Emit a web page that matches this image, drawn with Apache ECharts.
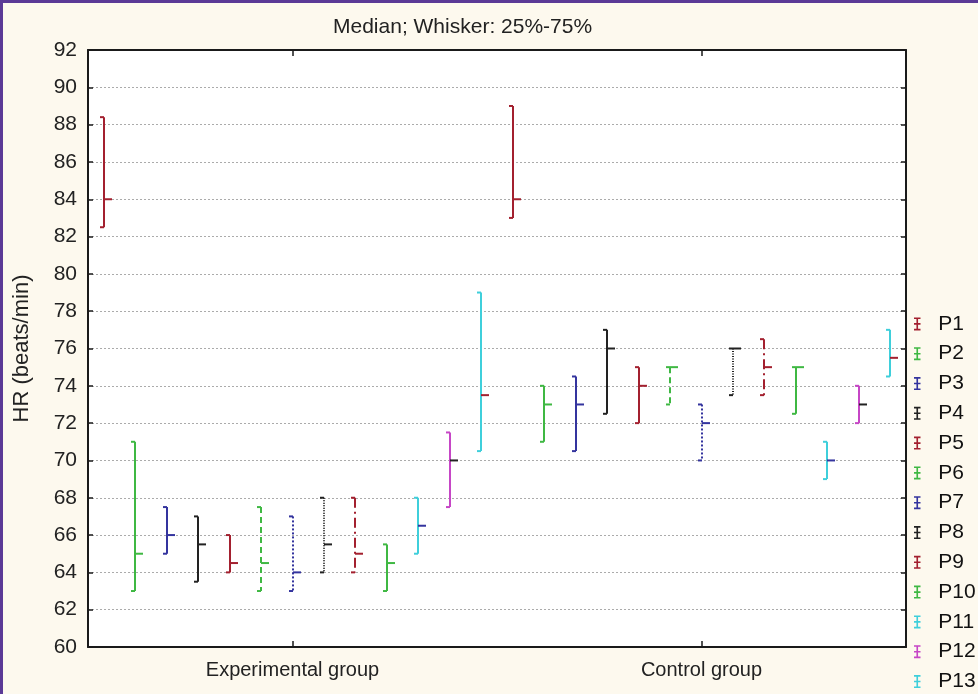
<!DOCTYPE html>
<html>
<head>
<meta charset="utf-8">
<script src="https://cdn.jsdelivr.net/npm/echarts@6/dist/echarts.min.js"></script>
<style>
  html, body { margin: 0; padding: 0; background: #fdf9ee; }
  #chart { width: 978px; height: 694px; }
</style>
</head>
<body>
<div id="chart"></div>
<script>
// Heart rate per participant: median with 25%-75% whiskers, two groups
const categories = ['Experimental group', 'Control group'];
const seriesNames = ['P1', 'P2', 'P3', 'P4', 'P5', 'P6', 'P7', 'P8', 'P9', 'P10', 'P11', 'P12', 'P13'];

// Experimental group
const q1Exp  = [82.5, 63, 65,   63.5, 64,   63,   63, 64,   64, 63,   65,   67.5, 70.5];
const medExp = [84,   65, 66,   65.5, 64.5, 64.5, 64, 65.5, 65, 64.5, 66.5, 70,   73.5];
const q3Exp  = [88.4, 71, 67.5, 67,   66,   67.5, 67, 68,   68, 65.5, 68,   71.5, 79];

// Control group
const q1Ctl  = [83, 71, 70.5, 72.5, 72, 73, 70, 73.5, 73.5, 72.5, 69, 72, 74.5];
const medCtl = [84, 73, 73,   76,   74, 75, 72, 76,   75,   75,   70, 73, 75.5];
const q3Ctl  = [89, 74, 74.5, 77,   75, 75, 73, 76,   76.5, 75,   71, 74, 77];

const yTicks = { min: 60, max: 92, interval: 2 };

// styling
const RED = '#a3202f', GREEN = '#3fb843', BLUE = '#34349e', BLACK = '#222222',
      CYAN = '#3fcfdb', MAGENTA = '#c646c6';
const whiskerColors = [RED, GREEN, BLUE, BLACK, RED, GREEN, BLUE, BLACK, RED, GREEN, CYAN, MAGENTA, CYAN];
const medianColors = [RED, GREEN, BLUE, BLACK];
const dashes = [null, null, null, null, null, [6, 4], [2, 2], [1, 1.5], [10, 4, 2, 4], null, null, null, null];

const FONT = 'Liberation Sans, Arial, sans-serif';
const LEGEND_ICON = 'path://M0,0H10V2.5H6.25V8.75H10V11.25H6.25V17.5H10V20H0V17.5H3.75V11.25H0V8.75H3.75V2.5H0Z';

function makeRenderer(idx) {
  const n = seriesNames.length;
  return function (params, api) {
    const cat = api.value(0);
    const lo = api.value(1), med = api.value(2), hi = api.value(3);
    const band = api.size([1, 0])[0];
    const xc = api.coord([cat, med])[0] + (idx - (n - 1) / 2) * band / n;
    const x = Math.round(xc);
    const yLo = api.coord([cat, lo])[1];
    const yHi = api.coord([cat, hi])[1];
    const yMed = api.coord([cat, med])[1];
    const stroke = whiskerColors[idx];
    const base = { stroke: stroke, lineWidth: 2, lineDash: dashes[idx] || null };
    return {
      type: 'group',
      children: [
        { type: 'line', shape: { x1: x, y1: yHi, x2: x, y2: yLo }, style: base },
        { type: 'line', shape: { x1: x - 4, y1: yHi, x2: x, y2: yHi }, style: { stroke: stroke, lineWidth: 2 } },
        { type: 'line', shape: { x1: x - 4, y1: yLo, x2: x, y2: yLo }, style: { stroke: stroke, lineWidth: 2 } },
        { type: 'line', shape: { x1: x, y1: yMed, x2: x + 8, y2: yMed },
          style: { stroke: medianColors[idx % 4], lineWidth: 2 } }
      ]
    };
  };
}

const series = seriesNames.map(function (name, i) {
  return {
    name: name,
    type: 'custom',
    renderItem: makeRenderer(i),
    itemStyle: { color: whiskerColors[i] },
    encode: { x: 0, y: [1, 2, 3] },
    data: [
      [0, q1Exp[i], medExp[i], q3Exp[i]],
      [1, q1Ctl[i], medCtl[i], q3Ctl[i]]
    ],
    z: 3
  };
});

const chart = echarts.init(document.getElementById('chart'), null, { renderer: 'canvas' });

const axisLine = { show: true, onZero: false, lineStyle: { color: '#1a1a1a', width: 2 } };
const tickStyle = { color: '#1a1a1a', width: 1.5 };

chart.setOption({
  backgroundColor: '#fdf9ee',
  animation: false,
  title: {
    text: 'Median; Whisker: 25%-75%',
    left: 328,
    top: 12,
    textStyle: { fontFamily: FONT, fontSize: 21, fontWeight: 'normal', color: '#222' }
  },
  grid: {
    left: 88, right: 72, top: 50, bottom: 47,
    show: true, backgroundColor: '#ffffff', borderWidth: 0
  },
  legend: {
    orient: 'vertical',
    left: 914,
    top: 309,
    height: 420,
    padding: 0,
    itemWidth: 8,
    itemHeight: 13,
    itemGap: 0,
    selectedMode: false,
    icon: LEGEND_ICON,
    data: seriesNames,
    textStyle: {
      fontFamily: FONT,
      fontSize: 21, color: '#111', lineHeight: 29.8,
      padding: [0, 0, 0, 12]
    }
  },
  graphic: [
    { type: 'line', shape: { x1: 0, y1: 1.5, x2: 978, y2: 1.5 }, style: { stroke: '#5b3a96', lineWidth: 3 }, z: 10 },
    { type: 'line', shape: { x1: 1.5, y1: 0, x2: 1.5, y2: 694 }, style: { stroke: '#5b3a96', lineWidth: 3 }, z: 10 }
  ],
  xAxis: [
    {
      type: 'category',
      data: categories,
      position: 'bottom',
      axisLine: axisLine,
      axisTick: { show: true, inside: true, alignWithLabel: true, length: 6, lineStyle: tickStyle },
      axisLabel: { margin: 13, fontFamily: FONT, fontSize: 20, color: '#222' },
      splitLine: { show: false }
    },
    {
      type: 'category',
      data: categories,
      position: 'top',
      axisLine: axisLine,
      axisTick: { show: true, inside: true, alignWithLabel: true, length: 6, lineStyle: tickStyle },
      axisLabel: { show: false },
      splitLine: { show: false }
    }
  ],
  yAxis: [
    {
      type: 'value',
      min: yTicks.min, max: yTicks.max, interval: yTicks.interval,
      position: 'left',
      name: 'HR (beats/min)',
      nameLocation: 'middle',
      nameGap: 55,
      nameTextStyle: { fontFamily: FONT, fontSize: 22, color: '#222' },
      axisLine: axisLine,
      axisTick: { show: true, inside: true, length: 5, lineStyle: tickStyle },
      axisLabel: { margin: 11, fontFamily: FONT, fontSize: 21, color: '#222' },
      splitLine: { show: true, lineStyle: { color: '#ababab', width: 1, type: [2, 2] } }
    },
    {
      type: 'value',
      min: yTicks.min, max: yTicks.max, interval: yTicks.interval,
      position: 'right',
      axisLine: axisLine,
      axisTick: { show: true, inside: true, length: 5, lineStyle: tickStyle },
      axisLabel: { show: false },
      splitLine: { show: false }
    }
  ],
  series: series
});
</script>
</body>
</html>
